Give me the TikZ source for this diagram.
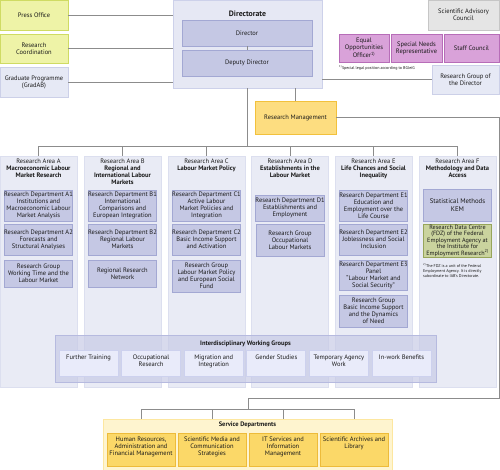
\documentclass[tikz,border=0pt]{standalone}
\usepackage{fontspec}
\setmainfont{PT Sans}
\usetikzlibrary{calc}
\definecolor{linegray}{HTML}{8C8C8C}
\definecolor{textdark}{HTML}{1A1A1A}
\definecolor{areafill}{HTML}{E9EBF5}
\definecolor{arealine}{HTML}{DCDFEF}
\definecolor{deptfill}{HTML}{C5C8E4}
\definecolor{deptline}{HTML}{A3A8D3}
\definecolor{dirfill}{HTML}{E6E8F4}
\definecolor{dirline}{HTML}{CDD1EA}
\definecolor{limefill}{HTML}{EEF3A7}
\definecolor{limeline}{HTML}{CFDB63}
\definecolor{lavfill}{HTML}{E6E9F5}
\definecolor{lavline}{HTML}{CCD0E8}
\definecolor{repfill}{HTML}{D9A2D9}
\definecolor{repline}{HTML}{B76DB8}
\definecolor{greyfill}{HTML}{E5E5E5}
\definecolor{greyline}{HTML}{C6C6C6}
\definecolor{rmfill}{HTML}{FDDD80}
\definecolor{rmline}{HTML}{F2C13C}
\definecolor{svcbgfill}{HTML}{FEF4CF}
\definecolor{svcbgline}{HTML}{FDE7A0}
\definecolor{svcfill}{HTML}{FBD868}
\definecolor{svcline}{HTML}{EDBB3A}
\definecolor{fdzfill}{HTML}{CAD39E}
\definecolor{fdzline}{HTML}{97A55A}
\definecolor{wgfill}{HTML}{C8CBE6}
\definecolor{wgline}{HTML}{B6BADF}
\definecolor{wgitemfill}{HTML}{E9EBFA}
\definecolor{wgitemline}{HTML}{CDD1EE}
\def\orgfont{\fontsize{6.5}{7}\selectfont}
\def\notefont{\fontsize{4.1}{4.7}\selectfont}
\def\headfont{\fontsize{7.8}{9}\selectfont\bfseries}
\tikzset{
  conn/.style={draw=linegray, line width=0.8bp},
  box/.style={rectangle, draw, line width=0.7bp, inner sep=0pt, align=center, font=\orgfont, text=textdark},
  sidebox/.style={box, fill=limefill, draw=limeline, minimum width=68bp, minimum height=30bp},
  dept/.style={box, fill=deptfill, draw=deptline, minimum width=68bp},
  areabg/.style={box, fill=areafill, draw=arealine, minimum width=77bp, minimum height=231bp},
  areatitle/.style={align=center, font=\orgfont, text=textdark, inner sep=0pt, anchor=north},
  repbox/.style={box, fill=repfill, draw=repline, minimum height=28bp},
  wgitem/.style={box, fill=wgitemfill, draw=wgitemline, minimum width=59bp, minimum height=26bp},
  svcitem/.style={box, fill=svcfill, draw=svcline, minimum width=68bp, minimum height=33bp},
  boxtext/.style={align=center, font=\orgfont, text=textdark, inner sep=0pt, anchor=north},
  note/.style={align=left, font=\notefont, text=textdark, inner sep=0pt, anchor=north west}
}

\begin{document}
\begin{tikzpicture}[x=1bp, y=-1bp]
  \useasboundingbox (0,0) rectangle (500,470);
  % Staff units
  \node[sidebox] (press) at (34,15) {Press Office};
  \node[sidebox, minimum height=29bp] (coord) at (34,48.5) {Research\\Coordination};
  \node[sidebox, fill=lavfill, draw=lavline] (grad) at (34,82) {Graduate Programme\\(GradAB)};

  % Directorate
  \node[box, fill=dirfill, draw=dirline, minimum width=149bp, minimum height=88bp] (dirbox) at (247.5,44) {};
  \node[font=\headfont, text=textdark, inner sep=0pt] (dirtitle) at (247.5,13.5) {Directorate};
  \node[dept, minimum width=130bp, minimum height=26bp] (director) at (247,33) {Director};
  \node[dept, minimum width=130bp, minimum height=26bp] (deputy) at (247,63) {Deputy Director};
  \draw[conn] (director) -- (deputy);
  \foreach \unit in {press,coord,grad}
    \draw[conn] (\unit.east) -- (\unit.east -| dirbox.west);

  % Council and representatives
  \node[box, fill=greyfill, draw=greyline, minimum width=71bp, minimum height=30bp] (council) at (463.5,15) {Scientific Advisory\\Council};
  \node[repbox, minimum width=50bp] (equal) at (364,48) {Equal\\Opportunities\\Officer\textsuperscript{1)}};
  \node[repbox, minimum width=51bp] (needs) at (416.5,48) {Special Needs\\Representative};
  \node[repbox, minimum width=55bp] (staff) at (471.5,48) {Staff Council};
  \node[note] (bgleig) at (339,65.5) {\textsuperscript{1)}Special legal position according to BGleiG};
  \node[box, fill=lavfill, draw=lavline, minimum width=67bp, minimum height=29bp] (rgd) at (465.5,79.5) {Research Group of\\the Director};
  \draw[conn] (rgd.west) -- (rgd.west -| dirbox.east);

  % Research management
  \node[box, fill=rmfill, draw=rmline, minimum width=81bp, minimum height=33bp] (rm) at (295.5,117.5) {Research Management};
  \draw[conn] (rm.north) -- (rm.north |- dirbox.south);

  % Research areas
  \coordinate (bus) at (247.5,146);
  \node[areabg] (areaA) at (38.5,271.5) {};
  \node[areabg] (areaB) at (122.5,271.5) {};
  \node[areabg] (areaC) at (206.5,271.5) {};
  \node[areabg] (areaD) at (290,271.5) {};
  \node[areabg] (areaE) at (373.5,271.5) {};
  \node[areabg] (areaF) at (457.5,271.5) {};
  \node[areatitle] (titleA) at (38.5,158.5) {Research Area A\\\textbf{Macroeconomic Labour}\\\textbf{Market Research}};
  \node[areatitle] (titleB) at (122.5,158.5) {Research Area B\\\textbf{Regional and}\\\textbf{International Labour}\\\textbf{Markets}};
  \node[areatitle] (titleC) at (206.5,158.5) {Research Area C\\\textbf{Labour Market Policy}};
  \node[areatitle] (titleD) at (290,158.5) {Research Area D\\\textbf{Establishments in the}\\\textbf{Labour Market}};
  \node[areatitle] (titleE) at (373.5,158.5) {Research Area E\\\textbf{Life Chances and Social}\\\textbf{Inequality}};
  \node[areatitle] (titleF) at (457.5,158.5) {Research Area F\\\textbf{Methodology and Data}\\\textbf{Access}};
  \foreach \areaid in {A,B,C,D,E,F}
    \draw[conn] (area\areaid.north) -- (area\areaid.north |- bus);
  \draw[conn] (areaA.north |- bus) -- (areaF.north |- bus);
  \draw[conn] (dirbox.south) -- (dirbox.south |- bus);

  % Departments
  \node[dept, minimum height=31bp] (a1) at (38.5,205.5) {Research Department A1\\Institutions and\\Macroeconomic Labour\\Market Analysis};
  \node[dept, minimum height=31bp] (a2) at (38.5,239.5) {Research Department A2\\Forecasts and\\Structural Analyses};
  \node[dept, minimum height=27bp] (a3) at (38.5,273.5) {Research Group\\Working Time and the\\Labour Market};
  \node[dept, minimum height=31bp] (b1) at (122.5,205.5) {Research Department B1\\International\\Comparisons and\\European Integration};
  \node[dept, minimum height=31bp] (b2) at (122.5,239.5) {Research Department B2\\Regional Labour\\Markets};
  \node[dept, minimum height=27bp] (b3) at (122.5,273.5) {Regional Research\\Network};
  \node[dept, minimum height=31bp] (c1) at (206.5,205.5) {Research Department C1\\Active Labour\\Market Policies and\\Integration};
  \node[dept, minimum height=31bp] (c2) at (206.5,239.5) {Research Department C2\\Basic Income Support\\and Activation};
  \node[dept, minimum height=32bp] (c3) at (206.5,276) {Research Group\\Labour Market Policy\\and European Social\\Fund};
  \node[dept, minimum height=26bp] (d1) at (290,208) {Research Department D1\\Establishments and\\Employment};
  \node[dept, minimum height=32bp] (d2) at (290,240) {Research Group\\Occupational\\Labour Markets};
  \node[dept, minimum height=31bp] (e1) at (373.5,205.5) {Research Department E1\\Education and\\Employment over the\\Life Course};
  \node[dept, minimum height=31bp] (e2) at (373.5,239.5) {Research Department E2\\Joblessness and Social\\Inclusion};
  \node[dept, minimum height=30bp] (e3) at (373.5,275) {Research Department E3\\Panel\\“Labour Market and\\Social Security”};
  \node[dept, minimum height=32bp] (e4) at (373.5,311) {Research Group\\Basic Income Support\\and the Dynamics\\of Need};
  \node[dept, minimum height=32bp, font=\fontsize{6.8}{7.6}\selectfont] (f1) at (457.5,205) {Statistical Methods\\KEM};
  \node[dept, minimum height=33bp, fill=fdzfill, draw=fdzline, font=\fontsize{6.2}{6.5}\selectfont] (fdz) at (457.5,240.5) {Research Data Centre\\(FDZ) of the Federal\\Employment Agency at\\the Institute for\\Employment Research\textsuperscript{2)}};
  \node[note] (fdznote) at (423,263.5) {\textsuperscript{2)}The FDZ is a unit of the Federal\\Employment Agency. It is directly\\subordinate to IAB's Directorate.};

  % Working groups
  \node[box, fill=wgfill, draw=wgline, fill opacity=0.7, minimum width=381bp, minimum height=47bp] (wg) at (245.5,358.5) {};
  \node[font=\orgfont\bfseries, text=textdark, inner sep=0pt] (wgtitle) at (245.5,343.5) {Interdisciplinary Working Groups};
  \foreach \wgname [count=\i from 0] in {Further Training, {Occupational\\Research}, {Migration and\\Integration}, Gender Studies, {Temporary Agency\\Work}, In-work Benefits}
  {
    \node[wgitem] (wg\i) at ({88.5+62.6*\i},363) {};
    \node[boxtext] (wgtext\i) at ($(wg\i.north)+(0,5)$) {\wgname};
  }

  % Service departments
  \node[box, fill=svcbgfill, draw=svcbgline, minimum width=289bp, minimum height=51bp] (svc) at (247.5,444.5) {};
  \node[font=\orgfont\bfseries, text=textdark, inner sep=0pt] (svctitle) at (247.5,425) {Service Departments};
  \foreach \sname [count=\i from 0] in {{Human Resources,\\Administration and\\Financial Management}, {Scientific Media and\\Communication\\Strategies}, {IT Services and\\Information\\Management}, {Scientific Archives and\\Library}}
  {
    \node[svcitem] (svc\i) at ({141+71*\i},449.5) {};
    \node[boxtext] (svctext\i) at ($(svc\i.north)+(0,4.5)$) {\sname};
  }
  \coordinate (rmturn) at (499,398);
  \coordinate (svcbus) at (248,409);
  \draw[conn] (rm.east) -| (rmturn) -| (svcbus);
  \draw[conn] (svc0.north |- svcbus) -- (svc3.north |- svcbus);
  \foreach \i in {0,...,3}
    \draw[conn] (svc\i.north |- svcbus) -- (svc\i.north |- svc.north);
\end{tikzpicture}
\end{document}
